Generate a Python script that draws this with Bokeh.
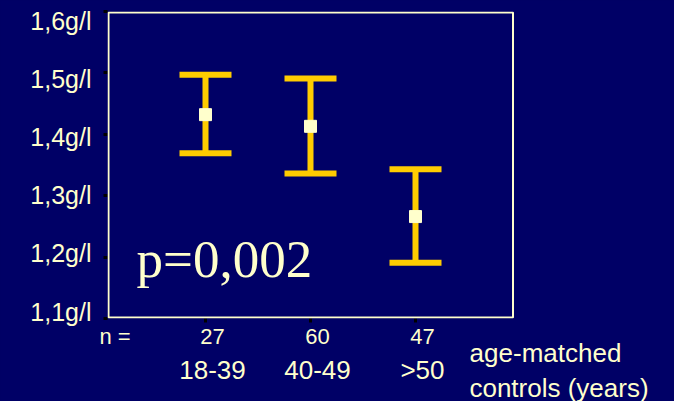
from bokeh.plotting import figure
from bokeh.models import Range1d, LinearAxis, FixedTicker, Label, BoxAnnotation
from bokeh.embed import file_html
from bokeh.resources import INLINE

# ---- data ----
groups = ["18-39", "40-49", ">50"]
n_values = ["27", "60", "47"]
x_pos = [1, 2, 3]
means = [1.432, 1.413, 1.266]
upper = [1.497, 1.491, 1.343]
lower = [1.369, 1.336, 1.191]
y_ticks = [1.1, 1.2, 1.3, 1.4, 1.5, 1.6]
y_tick_labels = ["1,1g/l", "1,2g/l", "1,3g/l", "1,4g/l", "1,5g/l", "1,6g/l"]
p_text = "p=0,002"
n_text = "n ="
x_title = ["age-matched", "controls (years)"]

# ---- style ----
BG = "#000066"
CREAM = "#FFFFCC"
GOLD = "#FFCC00"
FONT = "Liberation Sans"

PX_PER_X = 105.0
PX_PER_Y = 614.0
FRAME_W, FRAME_H = 567, 307          # frame runs to the right edge; box drawn to 513
x0 = 1 - 98 / PX_PER_X
x1 = x0 + FRAME_W / PX_PER_X
shift = 7 / PX_PER_X

def px_x(px):
    """page pixel -> main x data value"""
    return x0 + (px - 107) / PX_PER_X

p = figure(frame_width=FRAME_W, frame_height=FRAME_H,
           x_range=Range1d(x0, x1), y_range=Range1d(1.1, 1.6),
           x_axis_type=None, y_axis_type=None,
           toolbar_location=None, output_backend="svg",
           min_border_left=107, min_border_right=0,
           min_border_top=11, min_border_bottom=83,
           background_fill_color=BG, border_fill_color=BG,
           outline_line_color=None)

p.extra_y_ranges = {"laby": Range1d(1.1 - 7 / 581, 1.6 + 9.5 / 581)}
p.extra_x_ranges = {"labx": Range1d(x0 - shift, x1 - shift)}

# plot box border
p.add_layout(BoxAnnotation(left=px_x(108), right=px_x(512.5),
                           bottom=1.1 + 1 / PX_PER_Y, top=1.6 - 1 / PX_PER_Y,
                           fill_color=None, fill_alpha=0,
                           line_color=CREAM, line_alpha=1.0, line_width=2))

# ---- axes ----
def tick_axis(**kw):
    return LinearAxis(major_tick_out=4, major_tick_in=0,
                      major_tick_line_color="black", major_tick_line_width=3,
                      minor_tick_line_color=None, axis_line_color=None,
                      major_label_text_font_size="0px", major_label_standoff=0,
                      **kw)

def label_axis(**kw):
    return LinearAxis(major_tick_line_color=None, minor_tick_line_color=None,
                      axis_line_color=None, major_label_text_font=FONT,
                      major_label_text_color=CREAM, **kw)

ya = tick_axis(ticker=FixedTicker(ticks=y_ticks),
               major_label_overrides={v: "" for v in y_ticks})
p.add_layout(ya, "left")
yb = label_axis(y_range_name="laby", ticker=FixedTicker(ticks=y_ticks),
                major_label_overrides=dict(zip(y_ticks, y_tick_labels)),
                major_label_text_font_size="25px", major_label_standoff=6)
p.add_layout(yb, "left")

xa = tick_axis(ticker=FixedTicker(ticks=x_pos),
               major_label_overrides={v: "" for v in x_pos})
p.add_layout(xa, "below")

n_tick = (114.5 - 107) / PX_PER_X + (x0 - shift)
n_ticks = [n_tick] + x_pos
xb = label_axis(x_range_name="labx", ticker=FixedTicker(ticks=n_ticks),
                major_label_overrides=dict(zip(n_ticks, [n_text] + n_values)),
                major_label_text_font_size="22px", major_label_standoff=-5)
p.add_layout(xb, "below")
xc = label_axis(x_range_name="labx", ticker=FixedTicker(ticks=x_pos),
                major_label_overrides=dict(zip(x_pos, groups)),
                major_label_text_font_size="26px", major_label_standoff=-3)
p.add_layout(xc, "below")

# two-line title right of the categories, each line centred on its own tick
t1, t2 = px_x(545), px_x(558.5)
xd = label_axis(ticker=FixedTicker(ticks=[t1]),
                major_label_overrides={t1: x_title[0]},
                major_label_text_font_size="26px", major_label_standoff=-56)
p.add_layout(xd, "below")
xe = label_axis(ticker=FixedTicker(ticks=[t2]),
                major_label_overrides={t2: x_title[1]},
                major_label_text_font_size="26px", major_label_standoff=-21)
p.add_layout(xe, "below")

# ---- error bars ----
cap = 26 / PX_PER_X
p.segment(x0=x_pos, y0=lower, x1=x_pos, y1=upper, line_color=GOLD, line_width=6)
p.segment(x0=[x - cap for x in x_pos], y0=upper, x1=[x + cap for x in x_pos], y1=upper,
          line_color=GOLD, line_width=6)
p.segment(x0=[x - cap for x in x_pos], y0=lower, x1=[x + cap for x in x_pos], y1=lower,
          line_color=GOLD, line_width=6)
p.scatter(x_pos, means, marker="square", size=12, color=CREAM)

# ---- texts ----
p.add_layout(Label(x=0.343, y=1.1976, text=p_text, text_font="Liberation Serif",
                   text_font_size="53px", text_color=CREAM, text_baseline="alphabetic"))

html = file_html(p, INLINE)
html = html.replace("</head>", "<style>html,body{background-color:#000066;}</style></head>", 1)
open("out.html", "w").write(html)
